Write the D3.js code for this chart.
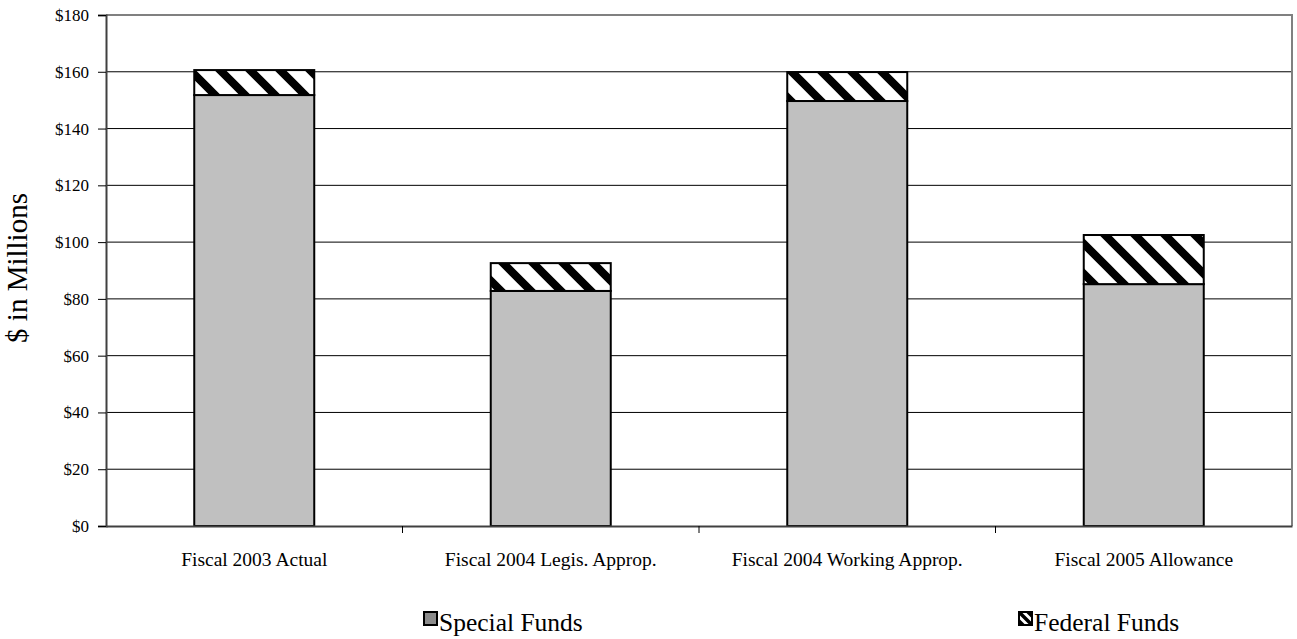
<!DOCTYPE html>
<html><head><meta charset="utf-8">
<script src="https://cdn.jsdelivr.net/npm/d3@7"></script>
<style>body{margin:0;background:#fff;} text{font-family:"Liberation Serif","Times New Roman",serif;}</style>
</head><body><svg id="c" width="1297" height="639"></svg>
<script>
const categories = ["Fiscal 2003 Actual","Fiscal 2004 Legis. Approp.","Fiscal 2004 Working Approp.","Fiscal 2005 Allowance"];
const specialFunds = [151.8, 82.8, 149.7, 85.2];
const federalFunds = [8.8, 9.8, 10.2, 17.3];
const seriesNames = ["Special Funds","Federal Funds"];
const yTicks = [0,20,40,60,80,100,120,140,160,180];

const svg = d3.select("#c");
const m = {l:106, r:1292, t:15, b:526};
const defs = svg.append("defs");
function hatch(id, s, w){
  const p = defs.append("pattern").attr("id",id).attr("patternUnits","userSpaceOnUse")
    .attr("width",s).attr("height",s);
  p.append("rect").attr("width",s).attr("height",s).attr("fill","#fff");
  p.append("path").attr("d",`M${-s/2},${-s/2} L${s*1.5},${s*1.5} M${-s/2},${s/2} L${s/2},${s*1.5} M${s/2},${-s/2} L${s*1.5},${s/2}`)
    .attr("stroke","#000").attr("stroke-width",w);
}
hatch("hatch", 30, 8);
hatch("hatchSmall", 9, 3.5);

const x = d3.scaleBand().domain(categories).range([m.l,m.r]).paddingInner(0).paddingOuter(0);
const y = d3.scaleLinear().domain([0,180]).range([m.b,m.t]);
const barW = 120;

// gridlines
svg.append("g").selectAll("line").data(yTicks.filter(d=>d>0 && d<180)).join("line")
  .attr("x1",m.l).attr("x2",m.r).attr("y1",d=>y(d)).attr("y2",d=>y(d))
  .attr("stroke","#000").attr("stroke-width",1);

// frame top/right
svg.append("path").attr("d",`M${m.l},${m.t} H${m.r} V${m.b}`).attr("fill","none").attr("stroke","#808080").attr("stroke-width",2);

// bars
const data = categories.map((c,i)=>({c, s:specialFunds[i], f:federalFunds[i]}));
const g = svg.append("g");
g.selectAll("rect.s").data(data).join("rect").attr("class","s")
  .attr("x",d=>x(d.c)+x.bandwidth()/2-barW/2).attr("width",barW)
  .attr("y",d=>y(d.s)).attr("height",d=>y(0)-y(d.s))
  .attr("fill","#c0c0c0").attr("stroke","#000").attr("stroke-width",2);
g.selectAll("rect.f").data(data).join("rect").attr("class","f")
  .attr("x",d=>x(d.c)+x.bandwidth()/2-barW/2).attr("width",barW)
  .attr("y",d=>y(d.s+d.f)).attr("height",d=>y(d.s)-y(d.s+d.f))
  .attr("fill","url(#hatch)").attr("stroke","#000").attr("stroke-width",2);

// y axis
const ya = svg.append("g").attr("transform",`translate(${m.l},0)`)
  .call(d3.axisLeft(y).tickValues(yTicks).tickFormat(d=>"$"+d).tickSize(8).tickPadding(9));
ya.select(".domain").attr("stroke","#404040").attr("stroke-width",2);
ya.selectAll(".tick line").attr("stroke","#000");
ya.selectAll(".tick text").attr("font-size",17).attr("fill","#000").attr("font-family","Liberation Serif, serif");

// x axis
const xa = svg.append("g").attr("transform",`translate(0,${m.b})`)
  .call(d3.axisBottom(x).tickSize(0).tickPadding(26));
xa.select(".domain").attr("stroke","#404040").attr("stroke-width",2);
xa.selectAll(".tick text").attr("font-size",19.5).attr("fill","#000").attr("font-family","Liberation Serif, serif");
const bounds = categories.map(c=>x(c)).concat([m.r]);
svg.append("g").selectAll("line").data(bounds.slice(1,4)).join("line")
  .attr("x1",d=>d).attr("x2",d=>d).attr("y1",m.b).attr("y2",m.b+7).attr("stroke","#000");

// y title
svg.append("text").attr("transform","translate(27,268) rotate(-90)").attr("text-anchor","middle")
  .attr("font-size",29).text("$ in Millions");

// legend
const leg = [{n:seriesNames[0], fill:"#8c8c8c", x:424},{n:seriesNames[1], fill:"url(#hatchSmall)", x:1019}];
const lg = svg.append("g").selectAll("g").data(leg).join("g").attr("transform",d=>`translate(${d.x},612)`);
lg.append("rect").attr("width",13).attr("height",13).attr("fill",d=>d.fill).attr("stroke","#000").attr("stroke-width",2);
lg.append("text").attr("x",15).attr("y",19).attr("font-size",25.5).text(d=>d.n);
</script></body></html>
